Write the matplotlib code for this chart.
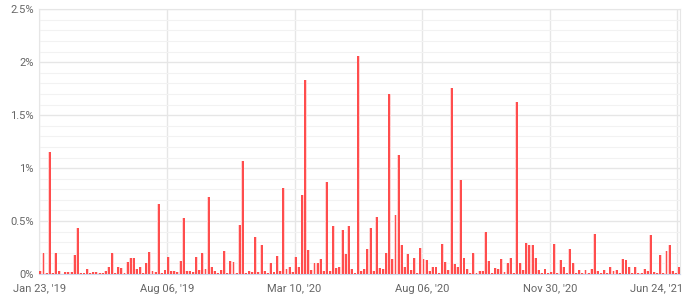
import matplotlib.pyplot as plt
from matplotlib.ticker import FixedLocator, MultipleLocator, FuncFormatter
from matplotlib.transforms import ScaledTranslation

plt.rcParams['font.family'] = ['Roboto', 'DejaVu Sans']

# values per event, in percent (left to right)
values = [
    0.025, 0.2, 0.005, 1.15, 0.005, 0.2, 0.03, 0.003, 0.015, 0.015,
    0.015, 0.18, 0.43, 0.005, 0.005, 0.045, 0.005, 0.015, 0.015, 0.005,
    0.005, 0.025, 0.07, 0.2, 0.005, 0.065, 0.055, 0.005, 0.11, 0.15,
    0.15, 0.045, 0.065, 0.005, 0.1,
    0.21, 0.025, 0.02, 0.66, 0.005, 0.04, 0.16, 0.025, 0.025, 0.02,
    0.12, 0.53, 0.025, 0.025, 0.02, 0.165, 0.04, 0.2, 0.045, 0.73,
    0.065, 0.025, 0.005, 0.04, 0.215, 0.01, 0.12,
    0.11, 0.005, 0.46, 1.07, 0.005, 0.03, 0.015,
    0.35, 0.02, 0.27, 0.025, 0.005, 0.1, 0.015, 0.17, 0.025, 0.81,
    0.045, 0.07, 0.015, 0.16, 0.07, 0.75,
    1.83, 0.23, 0.035, 0.1, 0.1, 0.14, 0.025, 0.87, 0.03, 0.45,
    0.055, 0.07, 0.42, 0.185, 0.45, 0.045, 0.005,
    2.06, 0.025, 0.045, 0.24, 0.43, 0.025, 0.535, 0.055, 0.045, 0.2,
    1.7, 0.14, 0.555, 1.12, 0.27, 0.065, 0.185, 0.035, 0.15, 0.005,
    0.25, 0.14, 0.13, 0.025, 0.065, 0.065, 0.005, 0.28, 0.11, 0.035,
    1.76, 0.09, 0.065, 0.89, 0.15, 0.045, 0.005, 0.195, 0.005, 0.025,
    0.025, 0.395, 0.12, 0.005, 0.055, 0.045, 0.14, 0.015, 0.1, 0.15,
    0.005, 1.62, 0.1, 0.035, 0.29, 0.27, 0.27, 0.15, 0.035, 0.005,
    0.045, 0.005, 0.015, 0.28, 0.005, 0.13, 0.07, 0.005, 0.235, 0.1,
    0.005, 0.035, 0.005, 0.035, 0.005, 0.045, 0.375, 0.025, 0.005, 0.035,
    0.005, 0.07, 0.025, 0.035, 0.005, 0.14, 0.13, 0.065, 0.005, 0.065,
    0.005, 0.005, 0.045, 0.025, 0.365, 0.015, 0.005, 0.175, 0.005, 0.215,
    0.27, 0.025, 0.005, 0.07,
]
tick_labels = ["Jan 23, '19", "Aug 06, '19", "Mar 10, '20",
               "Aug 06, '20", "Nov 30, '20", "Jun 24, '21"]

n = len(values)
xs = list(range(n))

fig = plt.figure(figsize=(6.86, 3.0), dpi=100)
ax = fig.add_axes([0.0573, 0.0867, 0.9340, 0.8823])

# grid
ax.set_ylim(0, 2.5)
ax.yaxis.set_major_locator(MultipleLocator(0.5))
ax.yaxis.set_minor_locator(MultipleLocator(0.1))
ax.grid(which='major', axis='y', color='#e6e6e6', linewidth=1.0)
ax.grid(which='minor', axis='y', color='#f2f2f2', linewidth=0.8)
ax.set_axisbelow(True)

x_lo, x_hi = -0.35, n - 1 + 0.35
ax.set_xlim(x_lo, x_hi)
tick_pos = [x_lo + k * (n - 1.5 - x_lo) / 5 for k in range(6)]
ax.xaxis.set_major_locator(FixedLocator(tick_pos))
ax.set_xticklabels(tick_labels)
ax.grid(which='major', axis='x', color='#e6e6e6', linewidth=1.0)

# pale halo, then the red core
ax.bar(xs, values, width=0.95, color='#ffd3d3', linewidth=0,
       antialiased=False, zorder=3)
ax.bar(xs, values, width=0.62, color='#ff4d4d', linewidth=0,
       antialiased=False, zorder=4)

ax.yaxis.set_major_formatter(FuncFormatter(lambda v, p: f'{v:g}%'))
ax.tick_params(axis='both', which='both', length=0, colors='#666666',
               labelsize=8)
ax.tick_params(axis='x', pad=7)
ax.tick_params(axis='y', pad=4)
last = ax.get_xticklabels()[-1]
last.set_horizontalalignment('right')
last.set_transform(last.get_transform()
                   + ScaledTranslation(4 / 72, 0, fig.dpi_scale_trans))

for side in ['left', 'right', 'top']:
    ax.spines[side].set_color('#e6e6e6')
ax.spines['bottom'].set_color('#ccd6eb')

fig.savefig('out.png', dpi=100)
